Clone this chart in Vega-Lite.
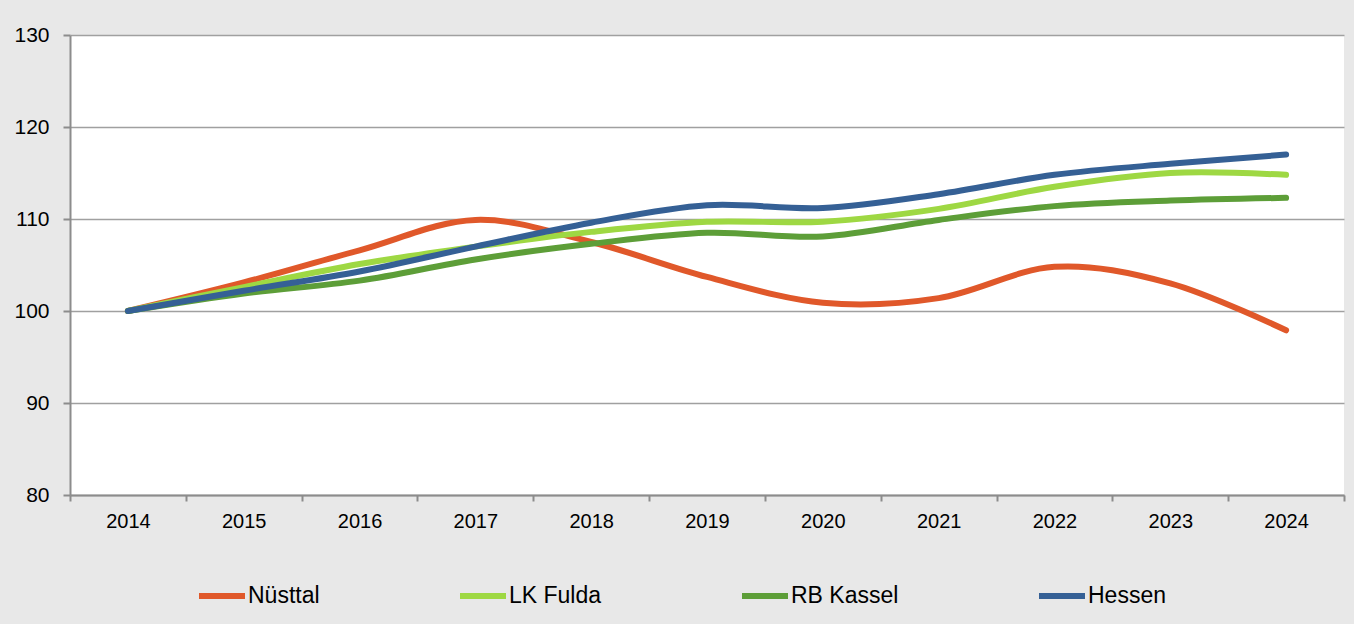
{
  "$schema": "https://vega.github.io/schema/vega-lite/v6.json",
  "autosize": "none",
  "width": 1274,
  "height": 460,
  "padding": {"left": 70, "top": 35, "right": 10, "bottom": 129},
  "background": "#e8e8e8",
  "config": {
    "view": {"fill": "white", "stroke": null},
    "font": "Liberation Sans, Arial, sans-serif"
  },
  "data": {
    "values": [
      {"year": "2014", "region": "Nüsttal", "value": 100},
      {"year": "2015", "region": "Nüsttal", "value": 103.1},
      {"year": "2016", "region": "Nüsttal", "value": 106.6},
      {"year": "2017", "region": "Nüsttal", "value": 109.9},
      {"year": "2018", "region": "Nüsttal", "value": 107.5},
      {"year": "2019", "region": "Nüsttal", "value": 103.7},
      {"year": "2020", "region": "Nüsttal", "value": 100.9},
      {"year": "2021", "region": "Nüsttal", "value": 101.4},
      {"year": "2022", "region": "Nüsttal", "value": 104.8},
      {"year": "2023", "region": "Nüsttal", "value": 103.0},
      {"year": "2024", "region": "Nüsttal", "value": 97.9},
      {"year": "2014", "region": "LK Fulda", "value": 100},
      {"year": "2015", "region": "LK Fulda", "value": 102.6},
      {"year": "2016", "region": "LK Fulda", "value": 105.1},
      {"year": "2017", "region": "LK Fulda", "value": 107.0},
      {"year": "2018", "region": "LK Fulda", "value": 108.6},
      {"year": "2019", "region": "LK Fulda", "value": 109.7},
      {"year": "2020", "region": "LK Fulda", "value": 109.7},
      {"year": "2021", "region": "LK Fulda", "value": 111.1},
      {"year": "2022", "region": "LK Fulda", "value": 113.5},
      {"year": "2023", "region": "LK Fulda", "value": 115.0},
      {"year": "2024", "region": "LK Fulda", "value": 114.8},
      {"year": "2014", "region": "RB Kassel", "value": 100},
      {"year": "2015", "region": "RB Kassel", "value": 101.9},
      {"year": "2016", "region": "RB Kassel", "value": 103.3},
      {"year": "2017", "region": "RB Kassel", "value": 105.6},
      {"year": "2018", "region": "RB Kassel", "value": 107.3},
      {"year": "2019", "region": "RB Kassel", "value": 108.5},
      {"year": "2020", "region": "RB Kassel", "value": 108.1},
      {"year": "2021", "region": "RB Kassel", "value": 109.9},
      {"year": "2022", "region": "RB Kassel", "value": 111.4},
      {"year": "2023", "region": "RB Kassel", "value": 112.0},
      {"year": "2024", "region": "RB Kassel", "value": 112.3},
      {"year": "2014", "region": "Hessen", "value": 100},
      {"year": "2015", "region": "Hessen", "value": 102.2},
      {"year": "2016", "region": "Hessen", "value": 104.3},
      {"year": "2017", "region": "Hessen", "value": 107.0},
      {"year": "2018", "region": "Hessen", "value": 109.6},
      {"year": "2019", "region": "Hessen", "value": 111.5},
      {"year": "2020", "region": "Hessen", "value": 111.2},
      {"year": "2021", "region": "Hessen", "value": 112.7},
      {"year": "2022", "region": "Hessen", "value": 114.8},
      {"year": "2023", "region": "Hessen", "value": 116.0},
      {"year": "2024", "region": "Hessen", "value": 117.0}
    ]
  },
  "mark": {"type": "line", "interpolate": "cardinal", "strokeWidth": 6, "strokeCap": "round", "strokeJoin": "round"},
  "encoding": {
    "x": {
      "field": "year",
      "type": "ordinal",
      "bandPosition": 0.5,
      "scale": {"type": "band", "paddingInner": 0, "paddingOuter": 0},
      "axis": {
        "title": null,
        "labelAngle": 0,
        "tickBand": "extent",
        "domainColor": "#8c8c8c",
        "domainWidth": 2,
        "tickColor": "#8c8c8c",
        "tickWidth": 2,
        "tickSize": 6,
        "labelFontSize": 20,
        "labelColor": "#000000",
        "labelPadding": 10,
        "grid": false
      }
    },
    "y": {
      "field": "value",
      "type": "quantitative",
      "scale": {"domain": [80, 130], "nice": false, "zero": false},
      "axis": {
        "title": null,
        "values": [80, 90, 100, 110, 120, 130],
        "domainColor": "#8c8c8c",
        "domainWidth": 2,
        "tickColor": "#8c8c8c",
        "tickWidth": 2,
        "tickSize": 7,
        "labelFontSize": 21,
        "labelColor": "#000000",
        "labelPadding": 14,
        "grid": true,
        "gridColor": "#a0a0a0",
        "gridWidth": 1.5
      }
    },
    "color": {
      "field": "region",
      "type": "nominal",
      "sort": ["Nüsttal", "LK Fulda", "RB Kassel", "Hessen"],
      "scale": {
        "domain": ["Nüsttal", "LK Fulda", "RB Kassel", "Hessen"],
        "range": ["#e0582a", "#9ed843", "#5d9e38", "#356095"]
      },
      "legend": {
        "title": null,
        "orient": "none",
        "direction": "horizontal",
        "legendX": 126,
        "legendY": 535,
        "symbolType": "stroke",
        "symbolSize": 2116,
        "symbolStrokeWidth": 6,
        "labelFontSize": 23,
        "labelColor": "#000000",
        "labelOffset": 0,
        "columnPadding": 128,
        "labelLimit": 400
      }
    }
  }
}
